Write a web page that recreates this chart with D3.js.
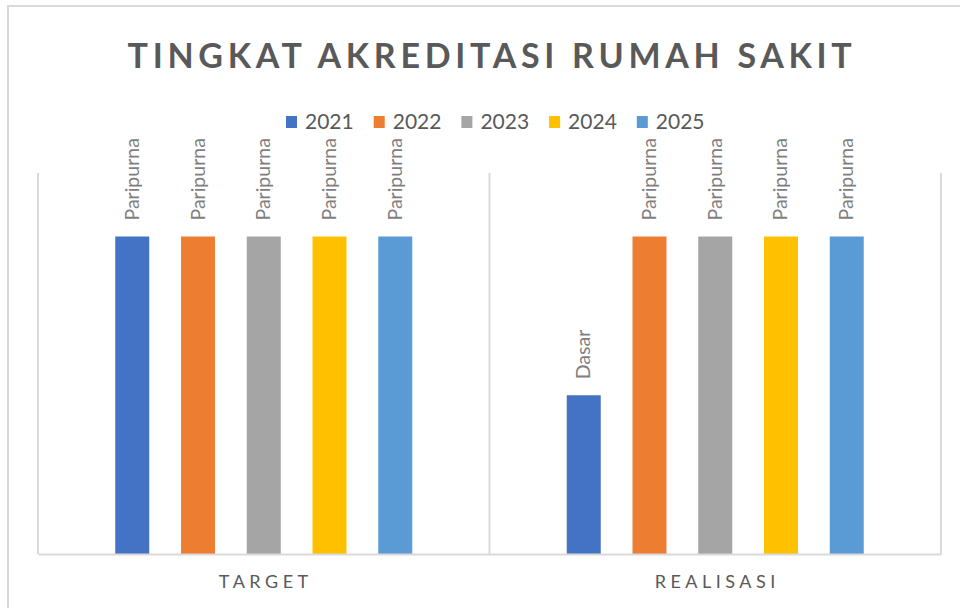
<!DOCTYPE html>
<html>
<head>
<meta charset="utf-8">
<script src="https://cdn.jsdelivr.net/npm/d3@7"></script>
<style>
  body { margin: 0; background: #fff; }
  svg { display: block; font-family: Lato, "Open Sans", sans-serif; }
</style>
</head>
<body>
<div id="chart"></div>
<script>
// data
const categories = ["TARGET", "REALISASI"];
const years = ["2021", "2022", "2023", "2024", "2025"];
const targetValues = [5, 5, 5, 5, 5];
const realisasiValues = [2.5, 5, 5, 5, 5];
const targetLabels = ["Paripurna", "Paripurna", "Paripurna", "Paripurna", "Paripurna"];
const realisasiLabels = ["Dasar", "Paripurna", "Paripurna", "Paripurna", "Paripurna"];
const colors = ["#4472c4", "#ed7d31", "#a5a5a5", "#ffc000", "#5b9bd5"];

const width = 960, height = 608;
const plot = { left: 38, right: 941, top: 173, bottom: 554 };

const svg = d3.select("#chart").append("svg")
  .attr("width", width)
  .attr("height", height);

// chart frame (cut off at right/bottom like the screenshot)
svg.append("rect")
  .attr("x", 8).attr("y", 6)
  .attr("width", 980).attr("height", 640)
  .attr("fill", "#fff")
  .attr("stroke", "#d9d9d9")
  .attr("stroke-width", 2);

// title
svg.append("text")
  .attr("x", 492).attr("y", 68)
  .attr("text-anchor", "middle")
  .attr("font-size", 34)
  .attr("font-weight", "bold")
  .attr("letter-spacing", 4.7)
  .attr("fill", "#595959")
  .text("TINGKAT AKREDITASI RUMAH SAKIT");

// scales
const x0 = d3.scaleBand().domain(categories).range([plot.left, plot.right]);
const x1 = d3.scaleBand().domain(years).range([0, x0.bandwidth()])
  .paddingInner(0.483).paddingOuter(1.175);
const y = d3.scaleLinear().domain([0, 6]).range([plot.bottom, plot.top]);
const color = d3.scaleOrdinal().domain(years).range(colors);

// category separators
const seps = [plot.left, x0("REALISASI"), plot.right];
svg.selectAll(".sep").data(seps).join("line")
  .attr("x1", d => d).attr("x2", d => d)
  .attr("y1", plot.top).attr("y2", plot.bottom)
  .attr("stroke", "#d9d9d9").attr("stroke-width", 2);

// bars
const rows = [
  { cat: "TARGET", values: targetValues, labels: targetLabels },
  { cat: "REALISASI", values: realisasiValues, labels: realisasiLabels }
];
const bars = [];
rows.forEach(r => {
  years.forEach((yr, i) => {
    bars.push({ cat: r.cat, year: yr, value: r.values[i], label: r.labels[i] });
  });
});

svg.selectAll(".bar").data(bars).join("rect")
  .attr("x", d => x0(d.cat) + x1(d.year))
  .attr("y", d => y(d.value))
  .attr("width", x1.bandwidth())
  .attr("height", d => y(0) - y(d.value))
  .attr("fill", d => color(d.year));

// data labels (rotated)
svg.selectAll(".lbl").data(bars).join("text")
  .attr("transform", d => {
    const cx = x0(d.cat) + x1(d.year) + x1.bandwidth() / 2;
    return `translate(${cx + 6.5},${y(d.value) - 16}) rotate(-90)`;
  })
  .attr("font-size", 19.5)
  .attr("fill", "#7f7f7f")
  .text(d => d.label);

// x axis
const xAxis = svg.append("g")
  .attr("transform", `translate(2,${plot.bottom})`)
  .call(d3.axisBottom(x0).tickSize(0).tickPadding(21));
xAxis.select(".domain").attr("stroke", "#d9d9d9").attr("stroke-width", 2)
  .attr("transform", "translate(-2,0)");
xAxis.selectAll("text")
  .attr("font-size", 18)
  .attr("font-family", "Lato, sans-serif")
  .attr("letter-spacing", 4.5)
  .attr("fill", "#595959");

// legend
const legend = svg.selectAll(".leg").data(years).join("g")
  .attr("transform", (d, i) => `translate(${286 + i * 87.7},116)`);
legend.append("rect")
  .attr("width", 11).attr("height", 12)
  .attr("fill", d => color(d));
legend.append("text")
  .attr("x", 19).attr("y", 12.5)
  .attr("font-size", 21)
  .attr("fill", "#595959")
  .text(d => d);
</script>
</body>
</html>
